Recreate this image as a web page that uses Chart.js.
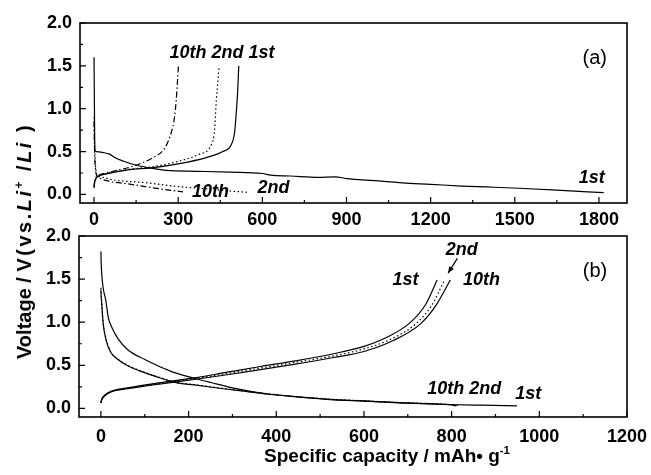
<!DOCTYPE html>
<html>
<head>
<meta charset="utf-8">
<script src="https://cdn.jsdelivr.net/npm/chart.js@4.4.1/dist/chart.umd.min.js"></script>
<style>
  body { margin: 0; background: #fff; width: 651px; height: 475px; position: relative; overflow: hidden;
         font-family: 'Liberation Sans', Arial, sans-serif; }
  .panel { position: absolute; left: 0; width: 651px; }
  #wrapA { top: 0; height: 230px; }
  #wrapB { top: 215px; height: 260px; }
  .title { position: absolute; white-space: nowrap; font-weight: bold; line-height: 1; color: #000; }
  .title sup { font-size: 0.6em; position: relative; top: -0.7em; vertical-align: baseline; }
  #ytitle { left: 24px; top: 241px; font-size: 20px; transform: translate(-50%, -50%) rotate(-90deg); }
  #ytitle .wide { letter-spacing: 2.5px; }
  #xtitle { left: 387px; top: 455px; font-size: 19px; transform: translate(-50%, -50%); }
</style>
</head>
<body>
<div class="panel" id="wrapA"><canvas id="chartA"></canvas></div>
<div class="panel" id="wrapB"><canvas id="chartB"></canvas></div>
<div class="title" id="ytitle">Voltage / <span class="wide">V(vs.<i>Li</i><sup>+</sup> /<i>Li</i> )</span></div>
<div class="title" id="xtitle">Specific capacity / mAh&#8226; g<sup>-1</sup></div>
<script>
// ---- panel (a) ----
const capA1Dis = [0, 1, 2, 3, 8, 30, 56, 74, 103, 151, 198, 258, 364, 483, 600, 630, 700, 800, 860, 900, 1000, 1100, 1200, 1310, 1400, 1515, 1650, 1817];
const voltA1Dis = [1.60, 1.20, 0.80, 0.52, 0.50, 0.49, 0.47, 0.43, 0.39, 0.34, 0.31, 0.28, 0.27, 0.26, 0.244, 0.225, 0.215, 0.198, 0.205, 0.185, 0.16, 0.135, 0.118, 0.098, 0.087, 0.072, 0.05, 0.02];
const capA2Dis = [0, 2, 5, 10, 30, 68, 186, 305, 400, 483, 545];
const voltA2Dis = [0.90, 0.60, 0.35, 0.23, 0.20, 0.17, 0.136, 0.09, 0.065, 0.04, 0.025];
const capA10Dis = [0, 2, 5, 10, 20, 60, 127, 245, 317];
const voltA10Dis = [0.85, 0.50, 0.30, 0.22, 0.19, 0.15, 0.12, 0.06, 0.03];
const capA1Chg = [0, 2, 6, 14, 44, 127, 204, 305, 400, 459, 489, 501, 507, 512, 516];
const voltA1Chg = [0.08, 0.14, 0.18, 0.21, 0.24, 0.29, 0.31, 0.36, 0.43, 0.50, 0.58, 0.72, 0.95, 1.20, 1.50];
const capA2Chg = [0, 3, 10, 40, 120, 222, 305, 376, 418, 430, 436, 441, 446];
const voltA2Chg = [0.08, 0.15, 0.20, 0.24, 0.29, 0.33, 0.39, 0.47, 0.58, 0.76, 1.10, 1.30, 1.50];
const capA10Chg = [0, 3, 10, 30, 68, 139, 210, 252, 275, 287, 293, 297, 301];
const voltA10Chg = [0.10, 0.17, 0.21, 0.24, 0.27, 0.33, 0.43, 0.54, 0.72, 0.90, 1.10, 1.30, 1.50];

// ---- panel (b) ----
const capB1Dis = [0, 0.5, 2, 5, 11, 17, 24, 40, 61, 99, 160, 213, 251, 311, 380, 440, 531, 600, 680, 793, 870, 949];
const voltB1Dis = [1.82, 1.70, 1.55, 1.40, 1.255, 1.05, 0.95, 0.80, 0.68, 0.57, 0.43, 0.35, 0.30, 0.226, 0.167, 0.136, 0.098, 0.085, 0.065, 0.045, 0.037, 0.03];
const capB2Dis = [0, 0.5, 1.5, 5, 12, 22, 38, 61, 99, 137, 174, 213, 288, 330, 380, 440, 531, 600, 680, 780, 805, 818];
const voltB2Dis = [1.40, 1.33, 1.255, 1.00, 0.80, 0.66, 0.575, 0.50, 0.42, 0.354, 0.30, 0.276, 0.226, 0.20, 0.17, 0.14, 0.105, 0.088, 0.068, 0.05, 0.04, 0.03];
const capB10Dis = [0, 0.5, 1.5, 5, 12, 22, 38, 61, 99, 137, 174, 213, 288, 330, 380, 440, 531, 600, 680, 780, 800, 810];
const voltB10Dis = [1.38, 1.31, 1.24, 0.99, 0.79, 0.655, 0.57, 0.495, 0.415, 0.35, 0.296, 0.272, 0.222, 0.197, 0.167, 0.138, 0.103, 0.086, 0.066, 0.048, 0.04, 0.028];
const capB1Chg = [0, 2, 7.5, 23, 61, 137, 213, 288, 364, 440, 531, 600, 650, 702, 740, 767];
const voltB1Chg = [0.07, 0.11, 0.148, 0.198, 0.238, 0.30, 0.354, 0.42, 0.486, 0.548, 0.634, 0.72, 0.82, 0.98, 1.20, 1.49];
const capB2Chg = [0, 2, 7.5, 23, 61, 137, 213, 288, 364, 440, 531, 600, 660, 718, 755, 782];
const voltB2Chg = [0.065, 0.105, 0.144, 0.194, 0.233, 0.292, 0.344, 0.405, 0.468, 0.53, 0.61, 0.69, 0.80, 0.98, 1.20, 1.47];
const capB10Chg = [0, 2, 7.5, 23, 61, 137, 213, 288, 364, 440, 531, 600, 668, 729, 765, 797];
const voltB10Chg = [0.06, 0.10, 0.14, 0.19, 0.228, 0.285, 0.335, 0.39, 0.45, 0.51, 0.59, 0.66, 0.79, 0.98, 1.20, 1.49];

// tick labels
const yTicks = [0, 0.5, 1.0, 1.5, 2.0];
const xTicksA = [0, 300, 600, 900, 1200, 1500, 1800];
const xTicksB = [0, 200, 400, 600, 800, 1000, 1200];

const SOLID = [];
const DOTTED = [1.5, 2.5];
const DASHDOT = [6, 2.5, 1.5, 2.5];

const tickFont = { family: "'Liberation Sans', Arial, sans-serif", size: 18, weight: 'bold' };
const labelFont = "italic bold 18px 'Liberation Sans', Arial, sans-serif";

function pts(xs, ys) { return xs.map((x, i) => ({ x, y: ys[i] })); }

function curve(xs, ys, dash) {
  return {
    data: pts(xs, ys), borderColor: '#000', borderWidth: 1.2, borderDash: dash,
    pointRadius: 0, fill: false, cubicInterpolationMode: 'monotone',
  };
}

// box, inward ticks and curve labels
const framePlugin = {
  id: 'frame',
  afterDraw(chart, args, opts) {
    const { ctx, chartArea: a, scales: { x, y } } = chart;
    ctx.save();
    ctx.strokeStyle = '#000';
    ctx.lineWidth = 1.2;
    ctx.beginPath();
    for (let i = 0; i * opts.xMinor <= x.max; i++) {
      const px = x.getPixelForValue(i * opts.xMinor);
      const len = i % 2 === 0 ? 6 : 3;
      ctx.moveTo(px, a.bottom); ctx.lineTo(px, a.bottom - len);
    }
    for (let i = 0; i * 0.25 <= y.max; i++) {
      const py = y.getPixelForValue(i * 0.25);
      const len = i % 2 === 0 ? 6 : 3;
      ctx.moveTo(a.left, py); ctx.lineTo(a.left + len, py);
    }
    ctx.stroke();
    ctx.lineWidth = 1.6;
    ctx.strokeRect(a.left, a.top, a.right - a.left, a.bottom - a.top);

    ctx.fillStyle = '#000';
    ctx.textBaseline = 'middle';
    for (const l of opts.labels) {
      ctx.font = l.font || labelFont;
      ctx.textAlign = l.align || 'center';
      ctx.fillText(l.text, x.getPixelForValue(l.x), y.getPixelForValue(l.y));
    }
    if (opts.arrow) {
      const [x0, y0, x1, y1] = opts.arrow;
      const p0 = [x.getPixelForValue(x0), y.getPixelForValue(y0)];
      const p1 = [x.getPixelForValue(x1), y.getPixelForValue(y1)];
      const ang = Math.atan2(p1[1] - p0[1], p1[0] - p0[0]);
      ctx.lineWidth = 1.2;
      ctx.beginPath(); ctx.moveTo(p0[0], p0[1]); ctx.lineTo(p1[0], p1[1]); ctx.stroke();
      ctx.beginPath();
      ctx.moveTo(p1[0], p1[1]);
      ctx.lineTo(p1[0] - 7 * Math.cos(ang - 0.4), p1[1] - 7 * Math.sin(ang - 0.4));
      ctx.lineTo(p1[0] - 7 * Math.cos(ang + 0.4), p1[1] - 7 * Math.sin(ang + 0.4));
      ctx.closePath(); ctx.fill();
    }
    ctx.restore();
  }
};

function makeChart(id, cfg) {
  return new Chart(document.getElementById(id), {
    type: 'line',
    data: { datasets: cfg.datasets },
    plugins: [framePlugin],
    options: {
      responsive: true, maintainAspectRatio: false, animation: false,
      layout: { padding: { top: cfg.top, right: 24, left: 0, bottom: 0 } },
      plugins: {
        legend: { display: false }, tooltip: { enabled: false },
        frame: { xMinor: cfg.xMinor, labels: cfg.labels, arrow: cfg.arrow },
      },
      scales: {
        x: {
          type: 'linear', min: -50, max: cfg.xMax,
          afterBuildTicks: s => { s.ticks = cfg.xTicks.map(v => ({ value: v })); },
          afterFit: s => { s.height = cfg.xHeight; s.paddingLeft = 0; s.paddingRight = 0; },
          grid: { display: false, drawTicks: false },
          border: { display: false },
          ticks: { color: '#000', font: tickFont, padding: cfg.xPad, autoSkip: false, maxRotation: 0,
                   callback: v => String(v) },
        },
        y: {
          min: -0.1, max: 2.0,
          afterBuildTicks: s => { s.ticks = yTicks.map(v => ({ value: v })); },
          afterFit: s => { s.width = cfg.yWidth; s.paddingTop = 0; s.paddingBottom = 0; },
          grid: { display: false, drawTicks: false },
          border: { display: false },
          ticks: { color: '#000', font: tickFont, padding: 8, callback: v => v.toFixed(1) },
        },
      },
    },
  });
}

makeChart('chartA', {
  top: 23, xHeight: 27, xPad: 6, yWidth: 80, xMax: 1900, xMinor: 150, xTicks: xTicksA,
  datasets: [
    curve(capA1Dis, voltA1Dis, SOLID),
    curve(capA2Dis, voltA2Dis, DOTTED),
    curve(capA10Dis, voltA10Dis, DASHDOT),
    curve(capA1Chg, voltA1Chg, SOLID),
    curve(capA2Chg, voltA2Chg, DOTTED),
    curve(capA10Chg, voltA10Chg, DASHDOT),
  ],
  labels: [
    { text: '10th 2nd 1st', x: 269, y: 1.65, align: 'left' },
    { text: '10th', x: 415, y: 0.03 },
    { text: '2nd', x: 640, y: 0.07 },
    { text: '1st', x: 1774, y: 0.19 },
    { text: '(a)', x: 1785, y: 1.59, font: "20px 'Liberation Sans', Arial, sans-serif" },
  ],
});

makeChart('chartB', {
  top: 21, xHeight: 58, xPad: 9, yWidth: 79, xMax: 1200, xMinor: 100, xTicks: xTicksB,
  datasets: [
    curve(capB1Dis, voltB1Dis, SOLID),
    curve(capB2Dis, voltB2Dis, DOTTED),
    curve(capB10Dis, voltB10Dis, SOLID),
    curve(capB1Chg, voltB1Chg, SOLID),
    curve(capB2Chg, voltB2Chg, DOTTED),
    curve(capB10Chg, voltB10Chg, SOLID),
  ],
  labels: [
    { text: '2nd', x: 823, y: 1.84 },
    { text: '1st', x: 695, y: 1.49 },
    { text: '10th', x: 868, y: 1.49 },
    { text: '10th 2nd', x: 829, y: 0.226 },
    { text: '1st', x: 975, y: 0.168 },
    { text: '(b)', x: 1127, y: 1.585, font: "20px 'Liberation Sans', Arial, sans-serif" },
  ],
  arrow: [813, 1.74, 792, 1.57],
});
</script>
</body>
</html>
